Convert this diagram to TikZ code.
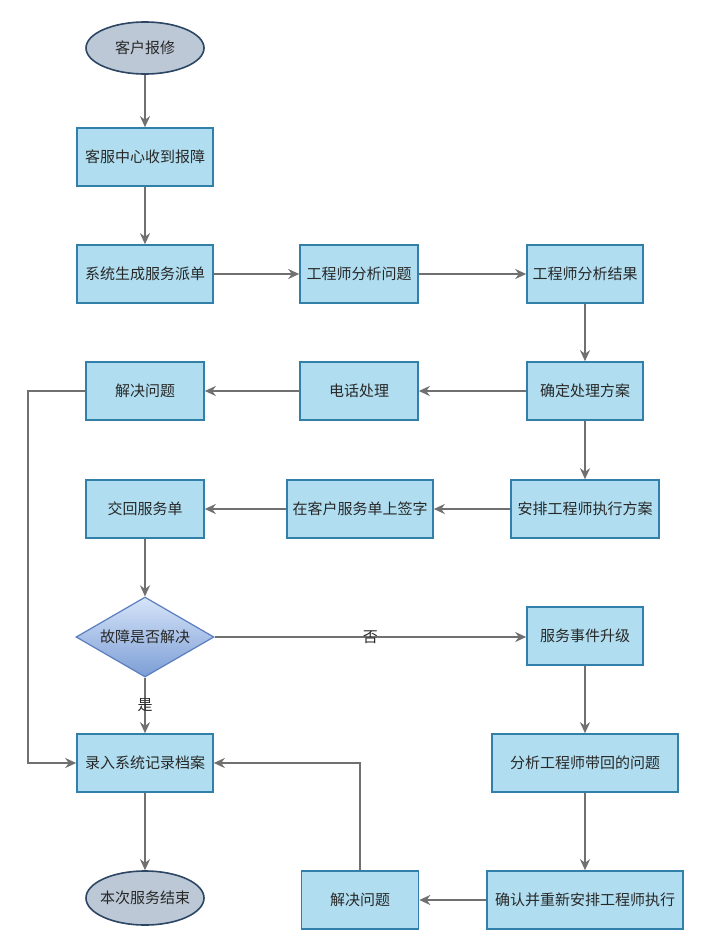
\documentclass[tikz,border=0pt]{standalone}
\usepackage{fontspec}
\newfontfamily\cjk{Noto Sans CJK SC}
\usetikzlibrary{shapes.geometric,arrows.meta}
\definecolor{boxfill}{RGB}{176,222,240}
\definecolor{boxline}{RGB}{48,128,170}
\definecolor{ovalfill}{RGB}{188,200,214}
\definecolor{ovalline}{RGB}{44,70,100}
\definecolor{difftop}{RGB}{214,228,248}
\definecolor{diffbot}{RGB}{124,158,214}
\definecolor{diffline}{RGB}{90,126,190}
\definecolor{flowline}{RGB}{112,112,112}
\definecolor{txt}{RGB}{40,40,40}
\tikzset{every picture/.append style={x=1pt,y=-1pt}}
\tikzset{lbl/.style={text=txt,font=\cjk\fontsize{15}{18}\selectfont}}
\tikzset{proc/.style={lbl,rectangle,draw=boxline,fill=boxfill,line width=1.6pt,minimum height=58pt,inner sep=0pt}}
\tikzset{term/.style={lbl,ellipse,draw=ovalline,fill=ovalfill,line width=1.6pt,minimum width=118pt,minimum height=52pt,inner xsep=-4pt,inner ysep=0pt}}
\tikzset{decide/.style={lbl,diamond,shape aspect=1.725,draw=diffline,top color=difftop,bottom color=diffbot,line width=1.2pt,minimum width=138pt,minimum height=80pt,inner sep=0pt}}
\tikzset{arc/.style={-{Stealth[length=11pt,width=10pt]},line width=1.8pt,draw=flowline}}

\begin{document}
\begin{tikzpicture}
\useasboundingbox (0,0) rectangle (703,950);
\node (a) at (145,48)[term]{客户报修};
\node (b) at (145,157)[proc,minimum width=136pt]{客服中心收到报障};
\node (c) at (145,274)[proc,minimum width=136pt]{系统生成服务派单};
\node (d) at (359,274)[proc,minimum width=118pt]{工程师分析问题};
\node (e) at (585,274)[proc,minimum width=116pt]{工程师分析结果};
\node (f) at (585,391)[proc,minimum width=116pt]{确定处理方案};
\node (g) at (359,391)[proc,minimum width=118pt]{电话处理};
\node (h) at (145,391)[proc,minimum width=118pt]{解决问题};
\node (i) at (585,509)[proc,minimum width=148pt]{安排工程师执行方案};
\node (j) at (360,509)[proc,minimum width=146pt]{在客户服务单上签字};
\node (k) at (145,509)[proc,minimum width=118pt]{交回服务单};
\node (l) at (145,637)[decide]{故障是否解决};
\node (m) at (585,636)[proc,minimum width=116pt]{服务事件升级};
\node (n) at (585,763)[proc,minimum width=186pt]{分析工程师带回的问题};
\node (o) at (145,763)[proc,minimum width=136pt]{录入系统记录档案};
\node (p) at (145,898)[term,minimum height=54pt]{本次服务结束};
\node (r) at (360,900)[proc,minimum width=117pt]{解决问题};
\node (q) at (585,900)[proc,minimum width=196pt]{确认并重新安排工程师执行};
\coordinate (w) at (28,391);% left return line

\draw[arc] (a) -- (b);
\draw[arc] (b) -- (c);
\draw[arc] (c) -- (d);
\draw[arc] (d) -- (e);
\draw[arc] (e) -- (f);
\draw[arc] (f) -- (g);
\draw[arc] (g) -- (h);
\draw[arc] (f) -- (i);
\draw[arc] (i) -- (j);
\draw[arc] (j) -- (k);
\draw[arc] (k) -- (l);
\draw[arc] (l.east) -- (m.west |- l.east)node [pos=0.5, lbl]{否};
\draw[arc] (l) -- (o)node [pos=0.5, lbl]{是};
\draw[arc] (m) -- (n);
\draw[arc] (n) -- (q);
\draw[arc] (q) -- (r);
\draw[arc] (o) -- (p);
\draw[arc] (h.west) -- (w) |- (o);
\draw[arc] (r) |- (o);
\end{tikzpicture}
\end{document}
